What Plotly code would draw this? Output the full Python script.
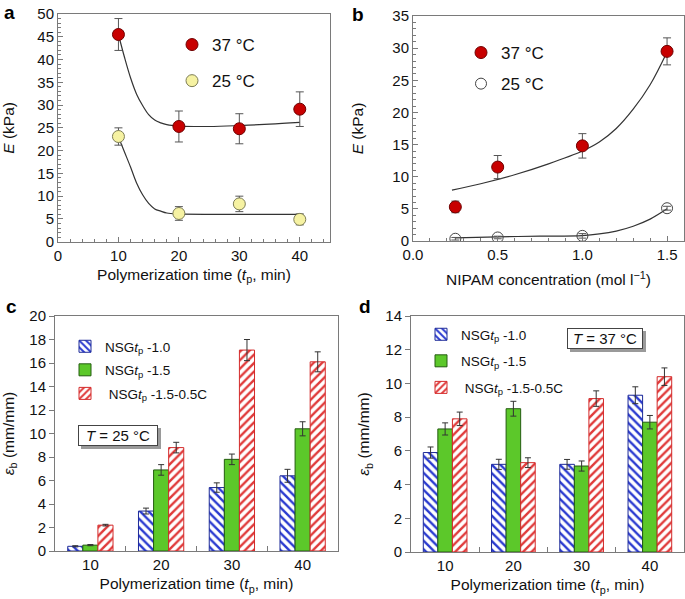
import plotly.graph_objects as go

# ---------------- data ----------------
# panel a
tp_a = [10, 20, 30, 40]
E37_a = [45.5, 25.3, 24.8, 29.1]
E37_a_err = [3.5, 3.4, 3.3, 3.8]
E25_a = [23.1, 6.2, 8.3, 4.9]
E25_a_err = [1.9, 1.5, 1.7, 1.2]
fit37_a_x = [10, 11, 12, 13, 14, 15, 16, 17, 18, 20, 25, 30, 35, 40]
fit37_a_y = [45.5, 40.5, 36.0, 32.4, 29.9, 27.9, 26.7, 26.1, 25.7, 25.4, 25.3, 25.5, 25.8, 26.2]
fit25_a_x = [10, 11, 12, 13, 14, 15, 16, 17, 18, 20, 25, 30, 35, 40]
fit25_a_y = [23.0, 19.7, 16.4, 12.9, 10.3, 8.4, 7.2, 6.7, 6.3, 6.1, 6.0, 6.0, 6.0, 6.0]

# panel b
nipam = [0.25, 0.5, 1.0, 1.5]
E37_b = [5.3, 11.5, 14.8, 29.5]
E37_b_err = [0.9, 1.8, 1.9, 2.1]
E25_b = [0.35, 0.55, 0.8, 5.1]
E25_b_err = [0.2, 0.2, 0.35, 0.3]
fit37_b_x = [0.23, 0.4, 0.6, 0.8, 1.0, 1.1, 1.2, 1.3, 1.4, 1.5]
fit37_b_y = [7.9, 8.9, 10.3, 12.0, 14.0, 15.4, 17.5, 20.5, 24.3, 29.4]
fit25_b_x = [0.25, 0.5, 0.75, 1.0, 1.1, 1.2, 1.3, 1.4, 1.5]
fit25_b_y = [0.5, 0.65, 0.75, 0.85, 1.1, 1.55, 2.3, 3.4, 5.0]

# panels c, d
tp_cat = ["10", "20", "30", "40"]
c_10 = [0.4, 3.4, 5.4, 6.4]
c_10_err = [0.05, 0.25, 0.4, 0.55]
c_15 = [0.5, 6.9, 7.8, 10.4]
c_15_err = [0.05, 0.45, 0.45, 0.6]
c_15c = [2.2, 8.8, 17.1, 16.1]
c_15c_err = [0.07, 0.45, 0.9, 0.85]
d_10 = [5.9, 5.2, 5.2, 9.3]
d_10_err = [0.33, 0.3, 0.29, 0.5]
d_15 = [7.3, 8.5, 5.1, 7.7]
d_15_err = [0.36, 0.44, 0.3, 0.4]
d_15c = [7.9, 5.3, 9.1, 10.4]
d_15c_err = [0.4, 0.29, 0.46, 0.52]

names_bar = ["NSG<i>t</i><sub>p</sub> -1.0", "NSG<i>t</i><sub>p</sub> -1.5",
             " NSG<i>t</i><sub>p</sub> -1.5-0.5C"]

# ---------------- figure ----------------
W, H = 685, 599
FONT = "Liberation Sans, Arial, sans-serif"
AX = "#7a7a7a"
RED = "#c80000"
fig = go.Figure()

def px_x(p):
    return p / W

def px_y(p):
    return 1 - p / H

def err(vals, color="#555", w=4):
    return dict(type="data", array=vals, visible=True, color=color, thickness=1, width=w)

# panel a
fig.add_trace(go.Scatter(x=fit37_a_x, y=fit37_a_y, mode="lines", line=dict(color="#333", width=1.2, shape="spline"),
                         showlegend=False, xaxis="x", yaxis="y", hoverinfo="skip"))
fig.add_trace(go.Scatter(x=fit25_a_x, y=fit25_a_y, mode="lines", line=dict(color="#333", width=1.2, shape="spline"),
                         showlegend=False, xaxis="x", yaxis="y", hoverinfo="skip"))
fig.add_trace(go.Scatter(x=tp_a, y=E37_a, error_y=err(E37_a_err), mode="markers", name="37 °C",
                         marker=dict(size=12, color=RED, line=dict(color="#700000", width=1)),
                         xaxis="x", yaxis="y", legend="legend", legendgroup="a37"))
fig.add_trace(go.Scatter(x=tp_a, y=E25_a, error_y=err(E25_a_err), mode="markers", name="25 °C",
                         marker=dict(size=12, color="#f6f2a2", line=dict(color="#7d7d55", width=1)),
                         xaxis="x", yaxis="y", legend="legend", legendgroup="a25"))

# panel b
fig.add_trace(go.Scatter(x=fit37_b_x, y=fit37_b_y, mode="lines", line=dict(color="#333", width=1.2, shape="spline"),
                         showlegend=False, xaxis="x2", yaxis="y2", hoverinfo="skip"))
fig.add_trace(go.Scatter(x=fit25_b_x, y=fit25_b_y, mode="lines", line=dict(color="#333", width=1.2, shape="spline"),
                         showlegend=False, xaxis="x2", yaxis="y2", hoverinfo="skip"))
fig.add_trace(go.Scatter(x=nipam, y=E37_b, error_y=err(E37_b_err), mode="markers", name="37 °C",
                         marker=dict(size=12, color=RED, line=dict(color="#700000", width=1)),
                         xaxis="x2", yaxis="y2", legend="legend2", legendgroup="b37"))
fig.add_trace(go.Scatter(x=nipam, y=E25_b, error_y=err(E25_b_err), mode="markers", name="25 °C",
                         marker=dict(size=11, color="rgba(0,0,0,0)", line=dict(color="#444", width=1)),
                         xaxis="x2", yaxis="y2", legend="legend2", legendgroup="b25"))

# bars
BLUE = "#2a3ad0"
GREEN = "#5cc82a"
RED2 = "#e03a3a"

def bar_traces(vals, errs, xa, ya, leg, tag):
    styles = [
        dict(color=BLUE, line=dict(color="#1d2a99", width=1),
             pattern=dict(shape="\\", fillmode="replace", bgcolor="white", size=6, solidity=0.4)),
        dict(color=GREEN, line=dict(color="#245c10", width=1)),
        dict(color=RED2, line=dict(color="#d42a2a", width=1),
             pattern=dict(shape="/", fillmode="replace", bgcolor="white", size=6, solidity=0.4)),
    ]
    for i, (v, e) in enumerate(zip(vals, errs)):
        fig.add_trace(go.Bar(x=tp_cat, y=v, error_y=err(e, "#333", 3), name=names_bar[i],
                             marker=styles[i], xaxis=xa, yaxis=ya, legend=leg,
                             legendgroup=tag + str(i)))

bar_traces([c_10, c_15, c_15c], [c_10_err, c_15_err, c_15c_err], "x3", "y3", "legend3", "c")
bar_traces([d_10, d_15, d_15c], [d_10_err, d_15_err, d_15c_err], "x4", "y4", "legend4", "d")

tickfont = dict(family=FONT, size=15, color="#111")
titlefont = dict(family=FONT, size=15.5, color="#111")

def axis(domain, rng, dtick, title, anchor, ticks="inside", minor=None, standoff=6, **kw):
    d = dict(domain=domain, range=rng, dtick=dtick, anchor=anchor, showline=True, linecolor=AX,
             linewidth=1, mirror=True, ticks=ticks, ticklen=5, tickcolor=AX, showgrid=False,
             zeroline=False, tickfont=tickfont, automargin=False, ticklabeloverflow="allow",
             title=dict(text=title, font=titlefont, standoff=standoff))
    if minor:
        d["minor"] = dict(ticks=ticks, dtick=minor, ticklen=3, tickcolor=AX, showgrid=False)
    d.update(kw)
    return d

xa_dom = [px_x(58), px_x(330)]
ya_dom = [px_y(241.7), px_y(14)]
xb_dom = [px_x(413), px_x(684)]
yb_dom = [px_y(241), px_y(16)]
xc_dom = [px_x(55), px_x(338)]
yc_dom = [px_y(551), px_y(316)]
xd_dom = [px_x(411), px_x(684)]
yd_dom = [px_y(552), px_y(316)]

tp_title = "Polymerization time (<i>t</i><sub>p</sub>, min)"
eps_title = "<i>ε</i><sub>b</sub> (mm/mm)"

fig.update_layout(
    width=W, height=H, margin=dict(l=0, r=0, t=0, b=0, autoexpand=False),
    paper_bgcolor="white", plot_bgcolor="white",
    font=dict(family=FONT, size=15, color="#111"),
    barmode="group", bargap=0.36, bargroupgap=0,
    xaxis=axis(xa_dom, [0, 45], 10, tp_title, "y", minor=2),
    yaxis=axis(ya_dom, [0, 50], 5, "<i>E</i> (kPa)", "x", minor=1, standoff=19),
    xaxis2=axis(xb_dom, [0, 1.6], 0.5, "NIPAM concentration (mol l<sup>−1</sup>)", "y2", minor=0.1,
                tickformat=".1f", standoff=12),
    yaxis2=axis(yb_dom, [0, 35], 5, "<i>E</i> (kPa)", "x2", minor=1, standoff=24),
    xaxis3=axis(xc_dom, [-0.5, 3.5], None, tp_title, "y3", type="category", tickson="boundaries"),
    yaxis3=axis(yc_dom, [0, 20], 2, eps_title, "x3", ticks="outside", standoff=13),
    xaxis4=axis(xd_dom, [-0.5, 3.5], None, tp_title, "y4", type="category", tickson="boundaries"),
    yaxis4=axis(yd_dom, [0, 14], 2, eps_title, "x4", ticks="outside", standoff=11),
    legend=dict(x=px_x(172), y=px_y(27), xanchor="left", yanchor="top", bgcolor="rgba(0,0,0,0)",
                font=dict(family=FONT, size=17), tracegroupgap=11),
    legend2=dict(x=px_x(461), y=px_y(35), xanchor="left", yanchor="top", bgcolor="rgba(0,0,0,0)",
                 font=dict(family=FONT, size=17), tracegroupgap=6),
    legend3=dict(x=px_x(65), y=px_y(331), xanchor="left", yanchor="top", bgcolor="rgba(0,0,0,0)",
                 font=dict(family=FONT, size=13.5), tracegroupgap=3),
    legend4=dict(x=px_x(421), y=px_y(319), xanchor="left", yanchor="top", bgcolor="rgba(0,0,0,0)",
                 font=dict(family=FONT, size=13.5), tracegroupgap=6),
)

# panel letters
for txt, x, y in [("a", 9, 12), ("b", 358, 14), ("c", 11, 306), ("d", 365, 307)]:
    fig.add_annotation(text="<b>%s</b>" % txt, x=px_x(x), y=px_y(y), xref="paper", yref="paper",
                       showarrow=False, xanchor="center", yanchor="middle",
                       font=dict(family=FONT, size=19, color="#000"))

# temperature boxes with shadow
for txt, xc, yc, bw in [("<i>T</i> = 25 °C", 118, 435, 78), ("<i>T</i> = 37 °C", 605, 338, 74)]:
    fig.add_annotation(text="\u00a0", x=px_x(xc), y=px_y(yc), xref="paper", yref="paper", showarrow=False,
                       xanchor="center", yanchor="middle", width=bw, height=19,
                       xshift=3, yshift=-3, font=dict(family=FONT, size=15),
                       bgcolor="#9a9a9a", bordercolor="#9a9a9a", borderwidth=1, borderpad=0)
    fig.add_annotation(text=txt, x=px_x(xc), y=px_y(yc), xref="paper", yref="paper", showarrow=False,
                       xanchor="center", yanchor="middle", width=bw, height=19,
                       font=dict(family=FONT, size=15, color="#111"),
                       bgcolor="white", bordercolor="#444", borderwidth=1, borderpad=0)

# the page body has a default 8px margin; remove it so the figure fills the window
fig.write_html("out.html", config={"displayModeBar": False},
               post_script="document.body.style.margin='0px';")
